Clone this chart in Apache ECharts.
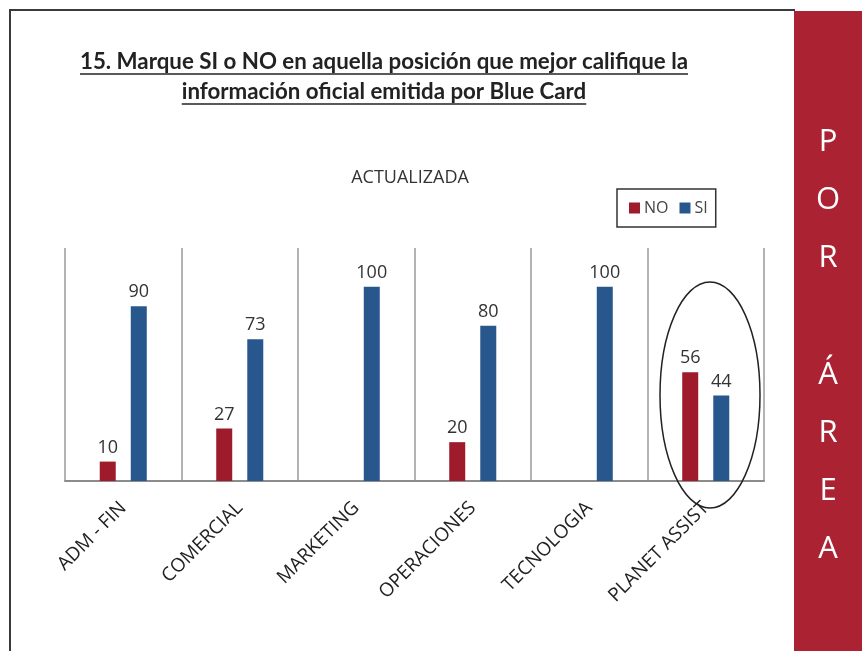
<!DOCTYPE html>
<html>
<head>
<meta charset="utf-8">
<script src="https://cdn.jsdelivr.net/npm/echarts@6/dist/echarts.min.js"></script>
<style>
html, body { margin: 0; padding: 0; background: #fff; }
#chart { width: 862px; height: 651px; }
</style>
</head>
<body>
<div id="chart"></div>
<script>
// datos
const categories = ["ADM - FIN", "COMERCIAL", "MARKETING", "OPERACIONES", "TECNOLOGIA", "PLANET ASSIST"];
const noValues = [10, 27, null, 20, null, 56];
const siValues = [90, 73, 100, 80, 100, 44];
const seriesNames = ["NO", "SI"];
const titleLines = [
  "15. Marque SI o NO en aquella posición que mejor califique la",
  "información oficial emitida por Blue Card"
];
const subtitle = "ACTUALIZADA";
const sideLetters = ["P", "O", "R", "", "Á", "R", "E", "A"];

const RED = "#9d1b2b";
const BLUE = "#28578e";
const BAND = "#ab2333";
const titleFont = "bold 22.3px Lato";

// medir el texto del título para subrayarlo
const ctx = document.createElement("canvas").getContext("2d");
ctx.font = titleFont;
const titleX = 384;
const titleY = [62, 92];

const graphics = [];
// marco
graphics.push({ type: "line", shape: { x1: 9, y1: 10, x2: 795, y2: 10 }, style: { stroke: "#3a3a3a", lineWidth: 2 } });
graphics.push({ type: "line", shape: { x1: 10, y1: 10, x2: 10, y2: 651 }, style: { stroke: "#3a3a3a", lineWidth: 2 } });
// banda lateral
graphics.push({ type: "rect", shape: { x: 794, y: 11, width: 68, height: 640 }, style: { fill: BAND } });
sideLetters.forEach((ch, i) => {
  if (!ch) return;
  graphics.push({
    type: "text", x: 828, y: 142 + i * 58.2,
    style: { text: ch, fill: "#fff", font: "31px 'Open Sans'", textAlign: "center", textVerticalAlign: "middle" }
  });
});
// título subrayado
titleLines.forEach((t, i) => {
  const w = ctx.measureText(t).width;
  graphics.push({
    type: "text", x: titleX, y: titleY[i],
    style: { text: t, fill: "#222", font: titleFont, textAlign: "center", textVerticalAlign: "middle" }
  });
  graphics.push({
    type: "line",
    shape: { x1: titleX - w / 2, y1: titleY[i] + 12, x2: titleX + w / 2, y2: titleY[i] + 12 },
    style: { stroke: "#222", lineWidth: 1.5 }
  });
});
graphics.push({
  type: "text", x: 410, y: 178,
  style: { text: subtitle, fill: "#333", font: "18px 'Open Sans'", textAlign: "center", textVerticalAlign: "middle" }
});
// elipse de resaltado
graphics.push({
  type: "ellipse", shape: { cx: 710, cy: 395, rx: 50, ry: 113 },
  style: { fill: "none", stroke: "#222", lineWidth: 1.5 }, z: 100
});

const chart = echarts.init(document.getElementById("chart"));
chart.setOption({
  animation: false,
  backgroundColor: "#fff",
  legend: {
    data: seriesNames,
    left: 617, top: 189,
    padding: [11, 8, 11, 12],
    itemWidth: 11, itemHeight: 11, itemGap: 11,
    icon: "rect",
    borderColor: "#333", borderWidth: 1.5,
    textStyle: { fontFamily: "Open Sans", fontSize: 16, color: "#444", padding: [0, 0, 0, -1] }
  },
  grid: { left: 65, right: 98, top: 248, bottom: 170 },
  xAxis: {
    type: "category",
    data: categories,
    axisLine: { lineStyle: { color: "#8c8c8c", width: 2 } },
    axisTick: { show: false },
    splitLine: { show: true, lineStyle: { color: "#9a9a9a", width: 1.5 } },
    axisLabel: { rotate: 45, margin: 24, fontFamily: "Open Sans", fontSize: 19, color: "#222", interval: 0 }
  },
  yAxis: { type: "value", min: 0, max: 120, show: false, splitLine: { show: false } },
  series: [
    {
      name: "NO", type: "bar", data: noValues, barWidth: 16, barGap: "94%",
      itemStyle: { color: RED },
      label: { show: true, position: "top", distance: 5, fontFamily: "Open Sans", fontSize: 18, color: "#333" }
    },
    {
      name: "SI", type: "bar", data: siValues, barWidth: 16,
      itemStyle: { color: BLUE },
      label: { show: true, position: "top", distance: 5, fontFamily: "Open Sans", fontSize: 18, color: "#333" }
    }
  ],
  graphic: graphics
});
</script>
</body>
</html>
